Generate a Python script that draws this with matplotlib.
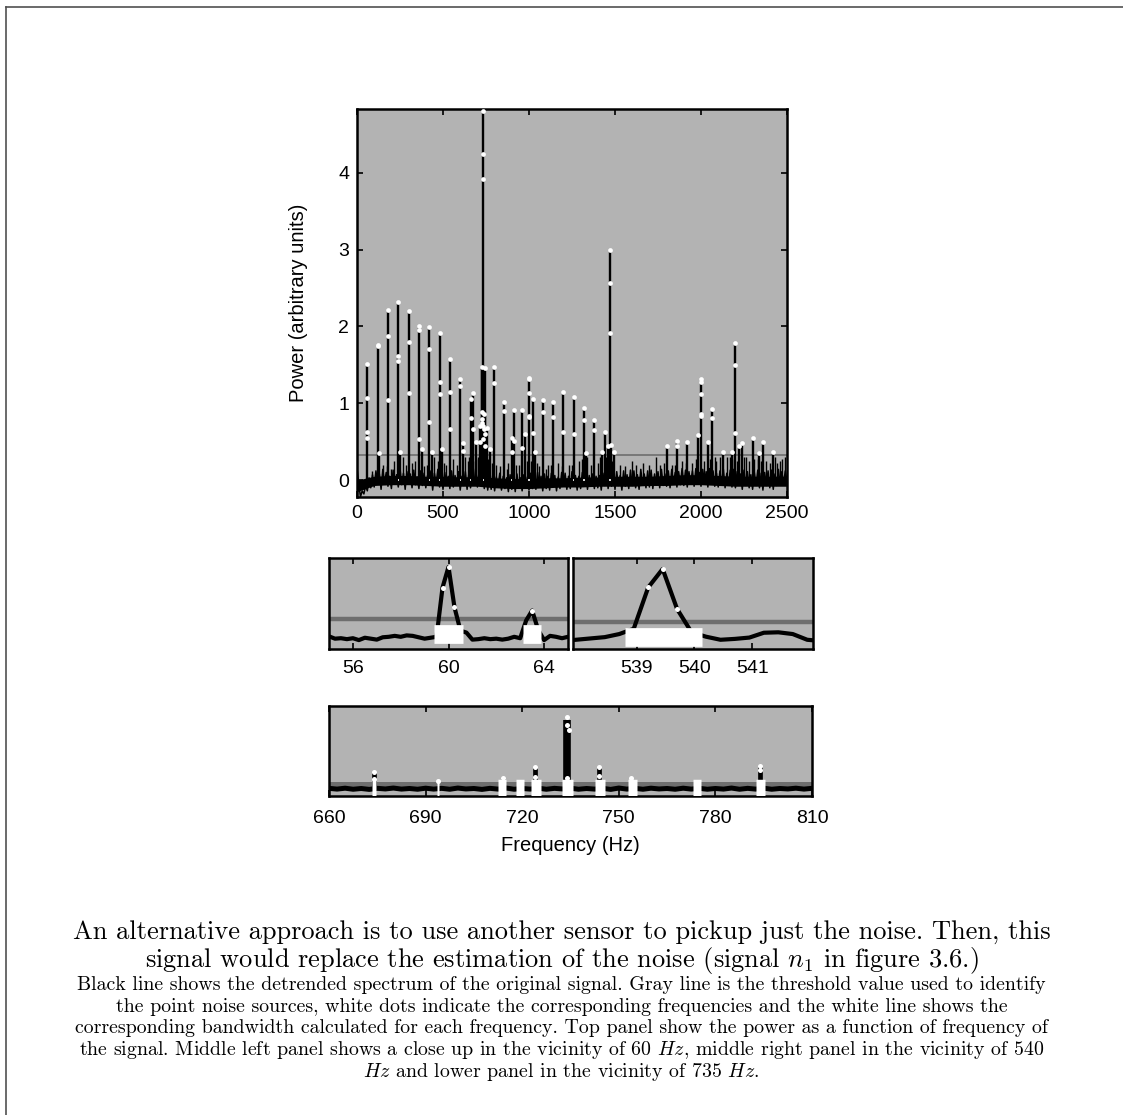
import matplotlib
matplotlib.use("Agg")
import matplotlib.pyplot as plt
from matplotlib.lines import Line2D

plt.rcParams['font.family'] = ['Liberation Sans', 'DejaVu Sans']
plt.rcParams['mathtext.fontset'] = 'cm'

BG = '#b3b3b3'
GRAY = '#6e6e6e'
THRESHOLD = 0.33

# ---------------- top panel: whole spectrum ----------------
NOISE_STEP = 10  # Hz between noise samples
NOISE_TOP = [
    0.16, -0.04, -0.22, -0.14, -0.18, -0.07, -0.14, 0.03, -0.10, 0.07,
    -0.09, 0.12, -0.05, 0.08, -0.12, 0.14, -0.04, 0.10, -0.08, 0.05,
    -0.11, 0.13, -0.03, 0.07, -0.09, 0.15, -0.06, 0.09, -0.12, 0.11,
    -0.05, 0.08, -0.10, 0.13, -0.06, 0.04, -0.11, 0.12, -0.07, 0.09,
    -0.10, 0.06, -0.04, 0.12, -0.13, 0.09, -0.05, 0.14, -0.09, 0.07,
    -0.12, 0.10, -0.06, 0.05, -0.11, 0.12, -0.09, 0.06, -0.04, 0.11,
    -0.13, 0.05, -0.07, 0.11, -0.12, 0.08, -0.10, 0.13, -0.06, 0.15,
    -0.09, 0.12, -0.05, 0.16, -0.11, 0.09, -0.13, 0.06, -0.12, 0.08,
    -0.14, 0.04, -0.08, 0.09, -0.13, 0.05, -0.11, 0.03, -0.15, 0.07,
    -0.12, 0.06, -0.15, 0.08, -0.09, 0.03, -0.14, 0.07, -0.10, 0.04,
    -0.13, 0.09, -0.11, 0.04, -0.12, 0.10, -0.08, 0.05, -0.14, 0.08,
    -0.11, 0.05, -0.13, 0.09, -0.08, 0.06, -0.14, 0.04, -0.11, 0.10,
    -0.08, 0.09, -0.12, 0.05, -0.11, 0.11, -0.07, 0.06, -0.13, 0.05,
    -0.11, 0.10, -0.08, 0.12, -0.12, 0.06, -0.07, 0.08, -0.11, 0.05,
    -0.10, 0.06, -0.13, 0.09, -0.07, 0.12, -0.11, 0.05, -0.08, 0.09,
    -0.12, 0.11, -0.07, 0.06, -0.13, 0.12, -0.08, 0.07, -0.11, 0.13,
    -0.07, 0.12, -0.10, 0.07, -0.12, 0.14, -0.06, 0.08, -0.10, 0.12,
    -0.09, 0.13, -0.11, 0.08, -0.06, 0.11, -0.10, 0.14, -0.07, 0.08,
    -0.08, 0.12, -0.10, 0.14, -0.05, 0.10, -0.09, 0.11, -0.06, 0.15,
    -0.07, 0.13, -0.09, 0.11, -0.04, 0.12, -0.08, 0.15, -0.05, 0.10,
    -0.08, 0.14, -0.04, 0.11, -0.09, 0.15, -0.05, 0.12, -0.08, 0.09,
    -0.09, 0.12, -0.05, 0.14, -0.10, 0.09, -0.06, 0.13, -0.09, 0.14,
    -0.10, 0.11, -0.06, 0.08, -0.12, 0.13, -0.07, 0.11, -0.10, 0.07,
    -0.12, 0.10, -0.07, 0.13, -0.10, 0.09, -0.13, 0.10, -0.07, 0.12,
    -0.10, 0.13, -0.12, 0.08, -0.07, 0.14, -0.06, 0.11, -0.05, 0.12,
    -0.02,
]
# solid core of the noise band, every 100 Hz
CORE_STEP = 100
CORE_HI = [0.00, 0.05, 0.06, 0.06, 0.05, 0.05, 0.04, 0.05, 0.03, 0.02, 0.02, 0.03, 0.03,
           0.04, 0.04, 0.05, 0.05, 0.05, 0.06, 0.07, 0.07, 0.06, 0.05, 0.05, 0.05, 0.05]
CORE_LO = [-0.15, -0.07, -0.06, -0.06, -0.07, -0.08, -0.08, -0.08, -0.10, -0.11, -0.11, -0.10,
           -0.09, -0.09, -0.08, -0.08, -0.08, -0.07, -0.07, -0.06, -0.06, -0.07, -0.08, -0.08,
           -0.08, -0.08]

SPIKE_FREQ = [90, 150, 175, 195, 215, 265, 285, 320, 340, 390, 405, 445, 470, 505, 520,
              560, 580, 630, 645, 650, 685, 690, 705, 760, 770, 785, 810, 830, 870, 880,
              925, 940, 990, 1010, 1045, 1060, 1100, 1110, 1130, 1170, 1190, 1230, 1250,
              1290, 1310, 1340, 1360, 1400, 1410, 1450, 1480, 1530, 1560, 1600, 1620, 1660,
              1700, 1740, 1760, 1785, 1830, 1850, 1890, 1910, 1950, 1970, 2020, 2050, 2080,
              2090, 2110, 2150, 2170, 2190, 2210, 2250, 2260, 2280, 2310, 2330, 2350, 2380,
              2400, 2430, 2440, 2460, 2470, 2490]
SPIKE_POW = [0.12, 0.20, 0.18, 0.15, 0.25, 0.30, 0.20, 0.22, 0.25, 0.18, 0.20, 0.30, 0.25, 0.22, 0.20,
             0.28, 0.20, 0.30, 0.25, 0.30, 0.25, 0.28, 0.30, 0.28, 0.25, 0.22, 0.20, 0.18, 0.15, 0.22,
             0.20, 0.20, 0.25, 0.25, 0.22, 0.18, 0.15, 0.20, 0.20, 0.22, 0.18, 0.20, 0.20,
             0.25, 0.28, 0.30, 0.20, 0.22, 0.30, 0.30, 0.25, 0.20, 0.18, 0.25, 0.20, 0.22,
             0.20, 0.30, 0.20, 0.22, 0.20, 0.20, 0.25, 0.22, 0.22, 0.28, 0.25, 0.28, 0.30,
             0.25, 0.30, 0.30, 0.30, 0.28, 0.25, 0.30, 0.30, 0.25, 0.28, 0.28, 0.25, 0.25,
             0.22, 0.30, 0.22, 0.25, 0.28, 0.30]

PEAK_FREQ = [60, 120, 125, 180, 240, 252, 300, 360, 375, 420,
             436, 480, 496, 540, 600, 614, 660, 674, 693, 714,
             719, 724, 727, 730, 733, 735, 738, 741, 744, 747,
             753, 775, 794, 855, 900, 915, 961, 977, 1000, 1021,
             1035, 1080, 1140, 1200, 1260, 1320, 1330, 1380, 1425, 1440,
             1460, 1470, 1478, 1495, 1800, 1860, 1920, 1980, 2000, 2040,
             2065, 2125, 2180, 2200, 2220, 2240, 2300, 2340, 2360, 2420]
PEAK_POW = [1.51, 1.76, 0.35, 2.21, 2.32, 0.36, 2.20, 2.01, 0.40, 1.99,
            0.37, 1.92, 0.41, 1.57, 1.31, 0.48, 1.05, 1.14, 0.49, 0.71,
            0.36, 1.47, 1.45, 1.40, 1.44, 4.90, 1.42, 1.45, 1.46, 0.90,
            0.68, 0.40, 1.47, 1.01, 0.55, 0.91, 0.91, 0.60, 1.33, 1.06,
            0.37, 1.04, 1.02, 1.15, 1.08, 0.94, 0.35, 0.78, 0.36, 0.62,
            0.44, 3.00, 0.46, 0.36, 0.45, 0.51, 0.50, 0.59, 1.31, 0.50,
            0.93, 0.36, 0.36, 1.79, 0.44, 0.48, 0.55, 0.35, 0.49, 0.36]

DOT_FREQ = [60, 60, 60, 60, 120, 120, 125, 180, 180, 180,
            240, 240, 240, 252, 300, 300, 300, 360, 360, 360, 375,
            420, 420, 420, 436, 480, 480, 480, 496, 540, 540, 540,
            600, 600, 614, 614, 660, 660, 674, 674, 693, 714, 714,
            724, 724, 726, 729, 732, 735, 735, 735, 735, 738, 741, 744, 744, 747, 753, 775,
            794, 794, 855, 855, 900, 900, 915, 915, 961, 961, 977,
            1000, 1000, 1000, 1000, 1000, 1021, 1021, 1035, 1080, 1080, 1140, 1140,
            1200, 1200, 1260, 1260, 1320, 1320, 1330, 1380, 1380, 1425, 1440,
            1460, 1470, 1470, 1470, 1478, 1495,
            1800, 1860, 1860, 1920, 1980, 2000, 2000, 2000, 2000, 2000, 2040, 2065, 2065,
            2125, 2180, 2200, 2200, 2200, 2220, 2240, 2300, 2340, 2360, 2420]
DOT_POW = [1.51, 1.07, 0.63, 0.55, 1.76, 1.74, 0.35, 2.21, 1.88, 1.04,
           2.32, 1.62, 1.55, 0.36, 2.20, 1.80, 1.14, 2.01, 1.96, 0.54, 0.40,
           1.99, 1.70, 0.76, 0.37, 1.92, 1.28, 1.12, 0.41, 1.57, 1.15, 0.66,
           1.31, 1.22, 0.48, 0.38, 1.05, 0.81, 1.14, 0.66, 0.49, 0.71, 0.49,
           1.47, 0.80, 0.88, 0.74, 0.53, 4.80, 4.24, 3.92, 0.70, 0.67, 0.86, 1.46, 0.60, 0.44, 0.68, 0.40,
           1.47, 1.26, 1.01, 0.90, 0.55, 0.37, 0.91, 0.51, 0.91, 0.42, 0.60,
           1.33, 1.31, 1.14, 0.84, 0.82, 1.06, 0.61, 0.37, 1.04, 0.89, 1.02, 0.82,
           1.15, 0.63, 1.08, 0.60, 0.94, 0.78, 0.35, 0.78, 0.65, 0.36, 0.62,
           0.44, 3.00, 2.57, 1.92, 0.46, 0.36,
           0.45, 0.51, 0.44, 0.50, 0.59, 1.31, 1.28, 1.12, 0.86, 0.83, 0.50, 0.93, 0.81,
           0.36, 0.36, 1.79, 1.50, 0.61, 0.44, 0.48, 0.55, 0.35, 0.49, 0.36]

BAND_TOP_LO = [236, 416, 476, 596, 656, 731, 896, 996, 1256, 1316, 1466]
BAND_TOP_HI = [244, 424, 484, 604, 664, 739, 904, 1004, 1264, 1324, 1474]

# ---------------- middle left: close up around 60 Hz ----------------
ML_FREQ = [55.00, 55.25, 55.50, 55.75, 56.00, 56.25, 56.50, 56.75, 57.00, 57.25,
           57.50, 57.75, 58.00, 58.25, 58.50, 58.75, 59.00, 59.25, 59.50, 59.75,
           60.00, 60.25, 60.50, 60.75, 61.00, 61.25, 61.50, 61.75, 62.00, 62.25,
           62.50, 62.75, 63.00, 63.25, 63.50, 63.75, 64.00, 64.25, 64.50, 64.75, 65.00]
ML_POW = [-0.04, -0.09, -0.08, -0.10, -0.08, -0.12, -0.07, -0.09, -0.11, -0.06,
          -0.05, -0.03, -0.05, -0.02, -0.03, -0.06, -0.09, -0.07, -0.05, 1.00,
          1.44, 0.58, 0.08, 0.04, -0.11, -0.10, -0.08, -0.10, -0.09, -0.11,
          -0.09, -0.05, -0.08, 0.30, 0.51, 0.10, -0.12, -0.03, -0.05, -0.08, -0.05]
ML_DOT_FREQ = [59.75, 60.00, 60.25, 63.50]
ML_DOT_POW = [1.00, 1.44, 0.58, 0.51]
ML_BAND_LO = [59.39, 63.13]
ML_BAND_HI = [60.62, 63.86]

# ---------------- middle right: close up around 540 Hz ----------------
MR_FREQ = [537.95, 538.20, 538.45, 538.70, 538.95, 539.20, 539.45, 539.70, 539.95,
           540.20, 540.45, 540.70, 540.95, 541.20, 541.45, 541.70, 541.95, 542.20]
MR_POW = [-0.07, -0.04, -0.01, 0.06, 0.18, 1.12, 1.54, 0.63, 0.10,
          0.00, -0.07, -0.05, -0.02, 0.09, 0.10, 0.06, -0.07, -0.10]
MR_DOT_FREQ = [539.20, 539.45, 539.70]
MR_DOT_POW = [1.12, 1.54, 0.63]
MR_BAND_LO = [538.80]
MR_BAND_HI = [540.13]

# ---------------- bottom: close up around 735 Hz ----------------
LOW_STEP = 2.5
LOW_NOISE = [0.03, -0.02, 0.04, -0.03, 0.02, -0.04, 0.03, -0.01, 0.05, -0.02,
             0.02, -0.03, 0.04, -0.02, 0.03, -0.03, 0.05, -0.01, 0.02, -0.04,
             0.03, -0.02, 0.05, -0.03, 0.02, -0.02, 0.04, -0.03, 0.03, -0.01,
             0.04, -0.03, 0.02, -0.02, 0.03, -0.04, 0.05, -0.02, 0.03, -0.03,
             0.04, -0.01, 0.02, -0.03, 0.04, -0.02, 0.03, -0.03, 0.02, -0.02,
             0.05, -0.03, 0.03, -0.02, 0.04, -0.03, 0.02, -0.01, 0.04, -0.02, 0.03]
LOW_PEAK_FREQ = [674.0, 714.0, 724.0, 744.0, 794.0]
LOW_PEAK_POW = [1.14, 0.72, 1.47, 1.46, 1.50]
LOW_MAIN_FREQ = [734.0]
LOW_MAIN_POW = [4.62]
LOW_DOT_FREQ = [674.0, 674.0, 693.8, 713.9, 724.0, 724.0, 734.0, 733.8, 734.4, 734.0,
                744.0, 744.0, 753.8, 794.0, 794.0]
LOW_DOT_POW = [1.14, 0.65, 0.54, 0.72, 1.47, 0.80, 4.80, 4.25, 3.92, 0.70,
               1.46, 0.85, 0.70, 1.50, 1.26]
LOW_BAND_LO = [673.4, 693.5, 712.5, 718.0, 722.6, 732.5, 742.5, 752.8, 772.9, 792.7]
LOW_BAND_HI = [674.6, 694.1, 715.1, 720.6, 725.7, 735.9, 745.8, 755.5, 775.6, 795.4]

CAPTION_MAIN = [
    "An alternative approach is to use another sensor to pickup just the noise. Then, this",
    "signal would replace the estimation of the noise (signal $n_1$ in figure 3.6.)",
]
CAPTION_SMALL = [
    "Black line shows the detrended spectrum of the original signal. Gray line is the threshold value used to identify",
    "the point noise sources, white dots indicate the corresponding frequencies and the white line shows the",
    "corresponding bandwidth calculated for each frequency. Top panel show the power as a function of frequency of",
    "the signal. Middle left panel shows a close up in the vicinity of 60 $Hz$, middle right panel in the vicinity of 540",
    "$Hz$ and lower panel in the vicinity of 735 $Hz$.",
]

W, H = 1123, 1115
fig = plt.figure(figsize=(W / 100, H / 100), dpi=100)


def px_axes(x0, y0, x1, y1):
    return fig.add_axes([x0 / W, 1 - y1 / H, (x1 - x0) / W, (y1 - y0) / H])


def style(ax, pad):
    ax.set_facecolor(BG)
    for s in ax.spines.values():
        s.set_linewidth(1.8)
    ax.tick_params(direction='in', length=4, width=1.2, top=True, right=True,
                   labelsize=14, pad=pad)


def bands(ax, lo, hi, lw):
    for a, b in zip(lo, hi):
        ax.plot([a, b], [0, 0], color='white', lw=lw, solid_capstyle='butt', zorder=4)


# top
ax = px_axes(357, 109, 787, 497)
style(ax, 5.5)
noise_f = [i * NOISE_STEP for i in range(len(NOISE_TOP))]
core_f = [i * CORE_STEP for i in range(len(CORE_HI))]
ax.axhline(THRESHOLD, color=GRAY, lw=1.2, zorder=1)
ax.fill_between(core_f, CORE_LO, CORE_HI, color='k', lw=0, zorder=2)
ax.plot(noise_f, NOISE_TOP, color='k', lw=1.1, zorder=2)
ax.vlines(SPIKE_FREQ, 0, SPIKE_POW, color='k', lw=1.0, zorder=2)
ax.vlines(PEAK_FREQ, 0, PEAK_POW, color='k', lw=1.7, zorder=2)
bands(ax, BAND_TOP_LO, BAND_TOP_HI, 1.2)
ax.plot(DOT_FREQ, DOT_POW, 'o', ms=3.4, mfc='white', mec='none', zorder=5, clip_on=False)
ax.set_xlim(0, 2500)
ax.set_ylim(-0.22, 4.83)
ax.set_xticks([0, 500, 1000, 1500, 2000, 2500])
ax.set_yticks([0, 1, 2, 3, 4])
ax.set_ylabel("Power (arbitrary units)", fontsize=14.5)
ax.yaxis.set_label_coords(-0.115, 0.5)

# middle left
ax = px_axes(329, 558, 568, 649)
style(ax, 8)
ax.axhline(THRESHOLD, color=GRAY, lw=3.2, zorder=1)
ax.plot(ML_FREQ, ML_POW, color='k', lw=3, zorder=2)
bands(ax, ML_BAND_LO, ML_BAND_HI, 13.5)
ax.plot(ML_DOT_FREQ, ML_DOT_POW, 'o', ms=3.6, mfc='white', mec='none', zorder=5)
ax.set_xlim(55, 65)
ax.set_ylim(-0.31, 1.63)
ax.set_xticks([56, 60, 64])
ax.set_yticks([])

# middle right
ax = px_axes(573, 558, 813, 649)
style(ax, 8)
ax.axhline(THRESHOLD, color=GRAY, lw=3.2, zorder=1)
ax.plot(MR_FREQ, MR_POW, color='k', lw=3, zorder=2)
bands(ax, MR_BAND_LO, MR_BAND_HI, 13.5)
ax.plot(MR_DOT_FREQ, MR_DOT_POW, 'o', ms=3.6, mfc='white', mec='none', zorder=5)
ax.set_xlim(537.9, 542.05)
ax.set_ylim(-0.28, 1.79)
ax.set_xticks([539, 540, 541])
ax.set_yticks([])

# bottom
ax = px_axes(329, 706, 812, 796)
style(ax, 10)
low_f = [660 + i * LOW_STEP for i in range(len(LOW_NOISE))]
ax.axhline(THRESHOLD, color=GRAY, lw=3.6, zorder=1)
ax.plot(low_f, LOW_NOISE, color='k', lw=3.6, zorder=2)
ax.vlines(LOW_PEAK_FREQ, 0, LOW_PEAK_POW, color='k', lw=3.4, zorder=3)
ax.vlines(LOW_MAIN_FREQ, 0, LOW_MAIN_POW, color='k', lw=5.5, zorder=3)
bands(ax, LOW_BAND_LO, LOW_BAND_HI, 14)
ax.plot(LOW_DOT_FREQ, LOW_DOT_POW, 'o', ms=3.6, mfc='white', mec='none', zorder=5)
ax.set_xlim(660, 810)
ax.set_ylim(-0.48, 5.52)
ax.set_xticks([660, 690, 720, 750, 780, 810])
ax.set_yticks([])
ax.set_xlabel("Frequency (Hz)", fontsize=14.5)
ax.xaxis.set_label_coords(0.5, -0.44)

# caption
for i, line in enumerate(CAPTION_MAIN):
    fig.text(0.5, 1 - (932 + 28 * i) / H, line, ha='center', va='center',
             family='cmr10', fontsize=19)
for i, line in enumerate(CAPTION_SMALL):
    fig.text(0.5, 1 - (985 + 21.7 * i) / H, line, ha='center', va='center',
             family='cmr10', fontsize=14.3)

# page frame
fig.add_artist(Line2D([6 / W, 1], [1 - 6.5 / H, 1 - 6.5 / H], transform=fig.transFigure,
                      color='#505050', lw=1.2))
fig.add_artist(Line2D([6 / W, 6 / W], [0, 1 - 6.5 / H], transform=fig.transFigure,
                      color='#505050', lw=1.2))

fig.savefig("out.png", dpi=100)
